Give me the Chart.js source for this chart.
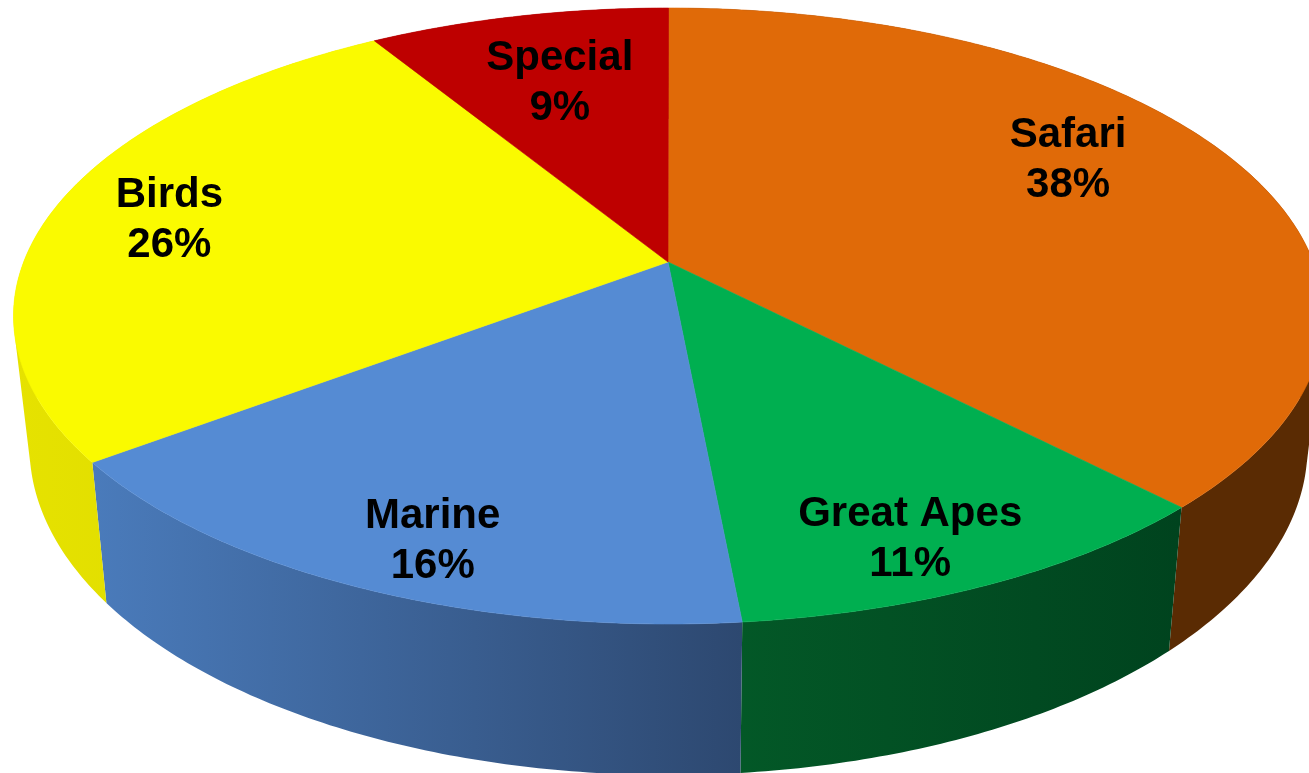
<!DOCTYPE html>
<html>
<head>
<meta charset="utf-8">
<style>html,body{margin:0;padding:0;background:#fff}canvas{display:block}</style>
<script src="https://cdn.jsdelivr.net/npm/chart.js@4/dist/chart.umd.min.js"></script>
</head>
<body>
<canvas id="c" width="1309" height="773"></canvas>
<script>
const categories = ['Safari', 'Great Apes', 'Marine', 'Birds', 'Special'];
const shares = [37.8, 10.7, 16.2, 26.49, 8.81];
const percentLabels = ['38%', '11%', '16%', '26%', '9%'];
const topColors = ['#E06A08', '#00AF50', '#558BD3', '#FAFA00', '#BE0000'];
const wallColorsFrom = ['#5A2B03', '#035827', '#4A7BBB', '#E6E200', '#7A0000'];
const wallColorsTo = ['#5A2B03', '#00431E', '#2D4870', '#DAD800', '#7A0000'];
const labelAnchors = [[0.61, -0.504], [0.369, 0.725], [-0.36, 0.733], [-0.762, -0.309], [-0.166, -0.754]];

const view = {
  top: { cx: 668.5, cy: 316, rx: 655, ry: 308 },
  bottom: { cx: 668.5, cy: 447, rx: 639, ry: 328 },
  apex: { x: 668, y: 262 },
  skew: 0.09
};
function tilt(phi) {
  const c = Math.cos(phi), s = Math.sin(phi), a = view.skew;
  const na = Math.atan2(s, c + a), da = Math.atan2(a * s, 1 + a * c);
  return na - da;
}
function edge(e, phi) {
  const t = tilt(phi);
  return [e.cx + e.rx * Math.sin(t), e.cy - e.ry * Math.cos(t)];
}
function samples(a, b) {
  const n = Math.max(8, Math.ceil((b - a) * 90)), out = [];
  for (let i = 0; i <= n; i++) out.push(a + (b - a) * i / n);
  return out;
}
function area(q) {
  let s = 0;
  q.forEach((p, k) => { const r = q[(k + 1) % q.length]; s += p[0] * r[1] - r[0] * p[1]; });
  return s;
}
const tiltedPie = {
  id: 'tiltedPie',
  beforeDatasetsDraw(chart) {
    const { ctx } = chart;
    const arcs = chart.getDatasetMeta(0).data;
    ctx.save();
    ctx.lineJoin = 'round';
    arcs.forEach((arc, i) => {
      const a = arc.startAngle + Math.PI / 2, b = arc.endAngle + Math.PI / 2;
      const pts = samples(a, b);
      const upper = pts.map(p => edge(view.top, p));
      const lower = pts.map(p => edge(view.bottom, p));
      const xs = upper.concat(lower).map(p => p[0]);
      const g = ctx.createLinearGradient(Math.min(...xs), 0, Math.max(...xs), 0);
      g.addColorStop(0, wallColorsFrom[i]);
      g.addColorStop(1, wallColorsTo[i]);
      ctx.beginPath();
      for (let k = 0; k < pts.length - 1; k++) {
        let q = [upper[k], upper[k + 1], lower[k + 1], lower[k]];
        if (area(q) < 0) q = q.reverse();
        q.forEach((p, j) => j ? ctx.lineTo(p[0], p[1]) : ctx.moveTo(p[0], p[1]));
        ctx.closePath();
      }
      ctx.fillStyle = g;
      ctx.fill('nonzero');
    });
    ctx.lineWidth = 0.6;
    arcs.forEach((arc, i) => {
      const a = arc.startAngle + Math.PI / 2, b = arc.endAngle + Math.PI / 2;
      ctx.beginPath();
      ctx.moveTo(view.apex.x, view.apex.y);
      samples(a, b).forEach(p => { const q = edge(view.top, p); ctx.lineTo(q[0], q[1]); });
      ctx.closePath();
      ctx.fillStyle = topColors[i]; ctx.strokeStyle = topColors[i];
      ctx.fill(); ctx.stroke();
    });
    ctx.fillStyle = '#000';
    ctx.font = 'bold 42px "Liberation Sans", Arial, sans-serif';
    ctx.textAlign = 'center';
    ctx.textBaseline = 'middle';
    arcs.forEach((arc, i) => {
      const x = view.top.cx + labelAnchors[i][0] * view.top.rx;
      const y = view.top.cy + labelAnchors[i][1] * view.top.ry;
      ctx.fillText(categories[i], x, y - 25);
      ctx.fillText(percentLabels[i], x, y + 25);
    });
    ctx.restore();
    return false;
  }
};
new Chart(document.getElementById('c'), {
  type: 'pie',
  data: { labels: categories, datasets: [{ data: shares, backgroundColor: topColors, borderWidth: 0 }] },
  options: {
    responsive: false,
    animation: false,
    plugins: { legend: { display: false }, title: { display: false }, tooltip: { enabled: false } }
  },
  plugins: [tiltedPie]
});
</script>
</body>
</html>
